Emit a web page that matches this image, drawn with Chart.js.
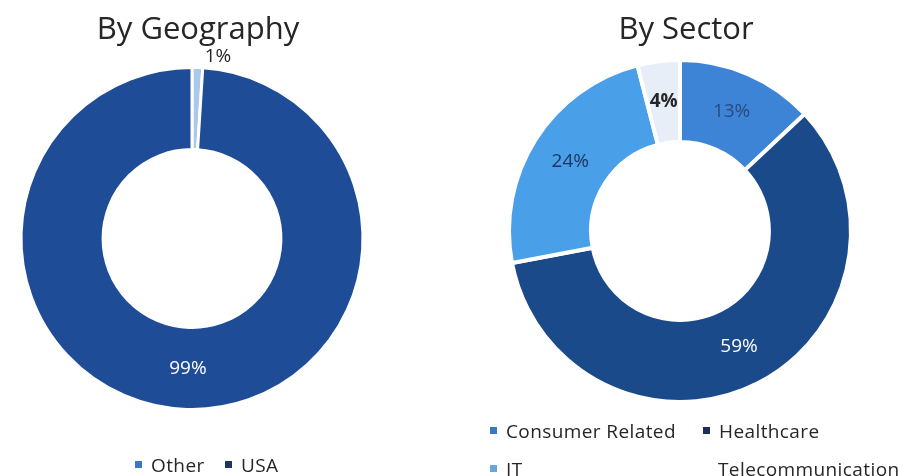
<!DOCTYPE html>
<html>
<head>
<meta charset="utf-8">
<script src="https://cdn.jsdelivr.net/npm/chart.js@4/dist/chart.umd.min.js"></script>
<style>
  body { margin: 0; background: #fff; width: 903px; height: 476px; overflow: hidden; position: relative; font-family: "Open Sans", "Noto Sans", sans-serif; }
  .box { position: absolute; top: 0; height: 476px; }
  #geoBox { left: 0; width: 451px; }
  #secBox { left: 451px; width: 452px; }
  .titulo { position: absolute; top: 6px; font-size: 31px; color: #262626; white-space: nowrap; transform: translateX(-50%); }
  .leyenda { position: absolute; font-size: 19px; color: #262626; white-space: nowrap; letter-spacing: 0.4px; }
  .leyenda span.m { display: inline-block; width: 7px; height: 7px; margin-right: 9px; vertical-align: middle; position: relative; top: -2px; }
</style>
</head>
<body>
<div class="box" id="geoBox">
  <canvas id="grafica-geo" width="451" height="476"></canvas>
  <div class="titulo" style="left:198px">By Geography</div>
</div>
<div class="box" id="secBox">
  <canvas id="grafica-sector" width="452" height="476"></canvas>
  <div class="titulo" style="left:235px">By Sector</div>
</div>

<script>
// --- Datos ---
const geoLabels = ["Other", "USA"];
const geoValues = [1, 99];
const geoColors = ["#a9c8ec", "#1f4c97"];
const geoLegendColors = ["#3a78c8", "#1f3563"];

const sectorLabels = ["Consumer Related", "Healthcare", "IT", "Telecommunication"];
const sectorValues = [13, 59, 24, 4];
const sectorColors = ["#3d84d6", "#1b4a8a", "#4aa0e8", "#e8eef8"];
const sectorLegendColors = ["#3a78c0", "#1b2f5a", "#6aa6dc", null];

// --- Etiquetas de porcentaje ---
function etiquetas(opts) {
    return {
        id: 'etiquetas',
        afterDatasetsDraw(chart) {
            const ctx = chart.ctx;
            const meta = chart.getDatasetMeta(0);
            ctx.save();
            ctx.textAlign = 'center';
            ctx.textBaseline = 'middle';
            meta.data.forEach((arc, i) => {
                const o = opts[i];
                const val = chart.data.datasets[0].data[i];
                let p = arc.tooltipPosition();
                let x = p.x, y = p.y;
                if (o.outside) {
                    x = arc.x + o.dx;
                    y = arc.y - arc.outerRadius - o.dy;
                }
                ctx.fillStyle = o.color;
                ctx.font = (o.bold ? 'bold ' : '') + '19px "Open Sans", "Noto Sans", sans-serif';
                ctx.fillText(val + '%', x, y);
            });
            ctx.restore();
        }
    };
}

// --- Leyendas ---
function leyenda(box, items, colores, posiciones) {
    items.forEach((txt, i) => {
        const d = document.createElement('div');
        d.className = 'leyenda';
        d.style.left = posiciones[i][0] + 'px';
        d.style.top = posiciones[i][1] + 'px';
        let html = '';
        if (colores[i]) html += '<span class="m" style="background:' + colores[i] + '"></span>';
        d.innerHTML = html + txt;
        document.getElementById(box).appendChild(d);
    });
}

// --- Grafica geografia ---
new Chart(document.getElementById('grafica-geo').getContext('2d'), {
    type: 'doughnut',
    data: {
        labels: geoLabels,
        datasets: [{
            data: geoValues,
            backgroundColor: geoColors,
            borderColor: '#ffffff',
            borderWidth: 3
        }]
    },
    options: {
        responsive: false,
        animation: false,
        cutout: '52%',
        layout: { padding: { left: 18, right: 85, top: 66, bottom: 65 } },
        plugins: { legend: { display: false }, tooltip: { enabled: false } }
    },
    plugins: [etiquetas([
        { outside: true, dx: 26, dy: 11, color: '#262626' },
        { color: '#ffffff' }
    ])]
});

// --- Grafica sector ---
new Chart(document.getElementById('grafica-sector').getContext('2d'), {
    type: 'doughnut',
    data: {
        labels: sectorLabels,
        datasets: [{
            data: sectorValues,
            backgroundColor: sectorColors,
            borderColor: '#ffffff',
            borderWidth: 4
        }]
    },
    options: {
        responsive: false,
        animation: false,
        cutout: '52%',
        layout: { padding: { left: 55, right: 49, top: 58, bottom: 72 } },
        plugins: { legend: { display: false }, tooltip: { enabled: false } }
    },
    plugins: [etiquetas([
        { color: '#2a4a80' },
        { color: '#ffffff' },
        { color: '#1f3560' },
        { color: '#262626', bold: true }
    ])]
});

leyenda('geoBox', geoLabels, geoLegendColors, [[135, 452], [225, 452]]);
leyenda('secBox', sectorLabels, sectorLegendColors, [[39, 418], [252, 418], [39, 456], [267, 456]]);
</script>
</body>
</html>
